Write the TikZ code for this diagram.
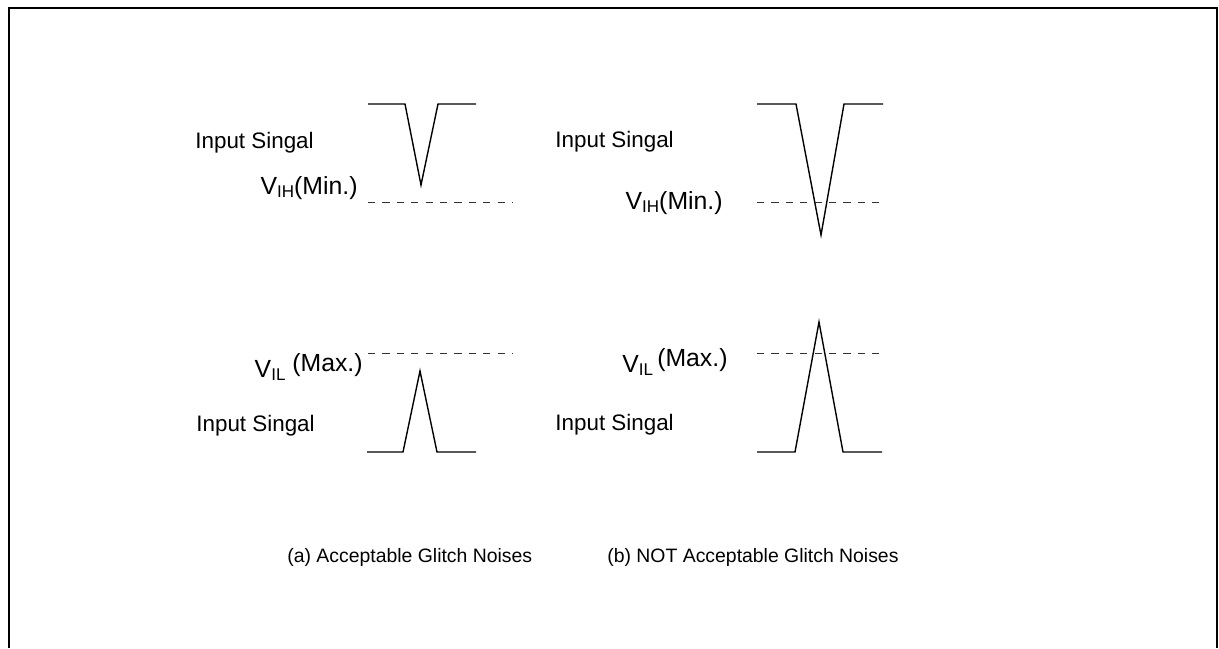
\documentclass[tikz,border=0pt]{standalone}
\usepackage{fontspec}
\setmainfont{Liberation Sans}
\newcommand{\vsub}[1]{\raisebox{-0.25ex}{\fontsize{8.5}{8.5}\selectfont #1}}
\tikzset{
  signal/.style={line width=0.7pt},
  level/.style={line width=0.5pt,black!80,dash pattern=on 3.6pt off 3.6pt},
  lbl/.style={inner sep=0pt,font=\fontsize{11.2}{13}\selectfont},
  vlbl/.style={inner sep=0pt,font=\fontsize{12.4}{14}\selectfont},
  caption/.style={inner sep=0pt,font=\fontsize{9.7}{12}\selectfont},
}
\begin{document}
\begin{tikzpicture}[x=0.5pt,y=-0.5pt]
	\useasboundingbox (0,0) rectangle (1219,648);
	\draw[line width=1.1pt] (9,648) -- (9,8) -- (1217,8) -- (1217,648);
	% (a) acceptable glitches
	\draw[signal] (368,104) -- (405,104) -- (421,185) -- (438,104) -- (476,104);
	\draw[level]  (368,202) -- (513,202);
	\node[lbl,anchor=base west]  (inA)  at (195,148) {Input Singal};
	\node[vlbl,anchor=base east] (vihA) at (358,194) {V\vsub{IH}(Min.)};
	\draw[level]  (368,353) -- (513,353);
	\draw[signal] (367,452) -- (403,452) -- (420,371) -- (437,452) -- (476,452);
	\node[vlbl,anchor=base east] (vilA) at (363,377) {V\vsub{IL} \raisebox{0.4ex}{(Max.)}};
	\node[lbl,anchor=base west]  (inA2) at (196,431) {Input Singal};
	% (b) not acceptable glitches
	\draw[signal] (757,104) -- (796,104) -- (821,235) -- (844,104) -- (883,104);
	\draw[level]  (757,202) -- (883,202);
	\node[lbl,anchor=base west]  (inB)  at (555,147) {Input Singal};
	\node[vlbl,anchor=base east] (vihB) at (723,209) {V\vsub{IH}(Min.)};
	\draw[level]  (757,353) -- (882,353);
	\draw[signal] (757,452) -- (795,452) -- (819,322) -- (843,452) -- (882,452);
	\node[vlbl,anchor=base west] (vilB) at (622,372) {V\vsub{IL}\,\raisebox{0.4ex}{(Max.)}};
	\node[lbl,anchor=base west]  (inB2) at (555,430) {Input Singal};
	% captions
	\node[caption,anchor=base west] (capA) at (287,562) {(a) Acceptable Glitch Noises};
	\node[caption,anchor=base west] (capB) at (607,562) {(b) NOT Acceptable Glitch Noises};
\end{tikzpicture}
\end{document}
